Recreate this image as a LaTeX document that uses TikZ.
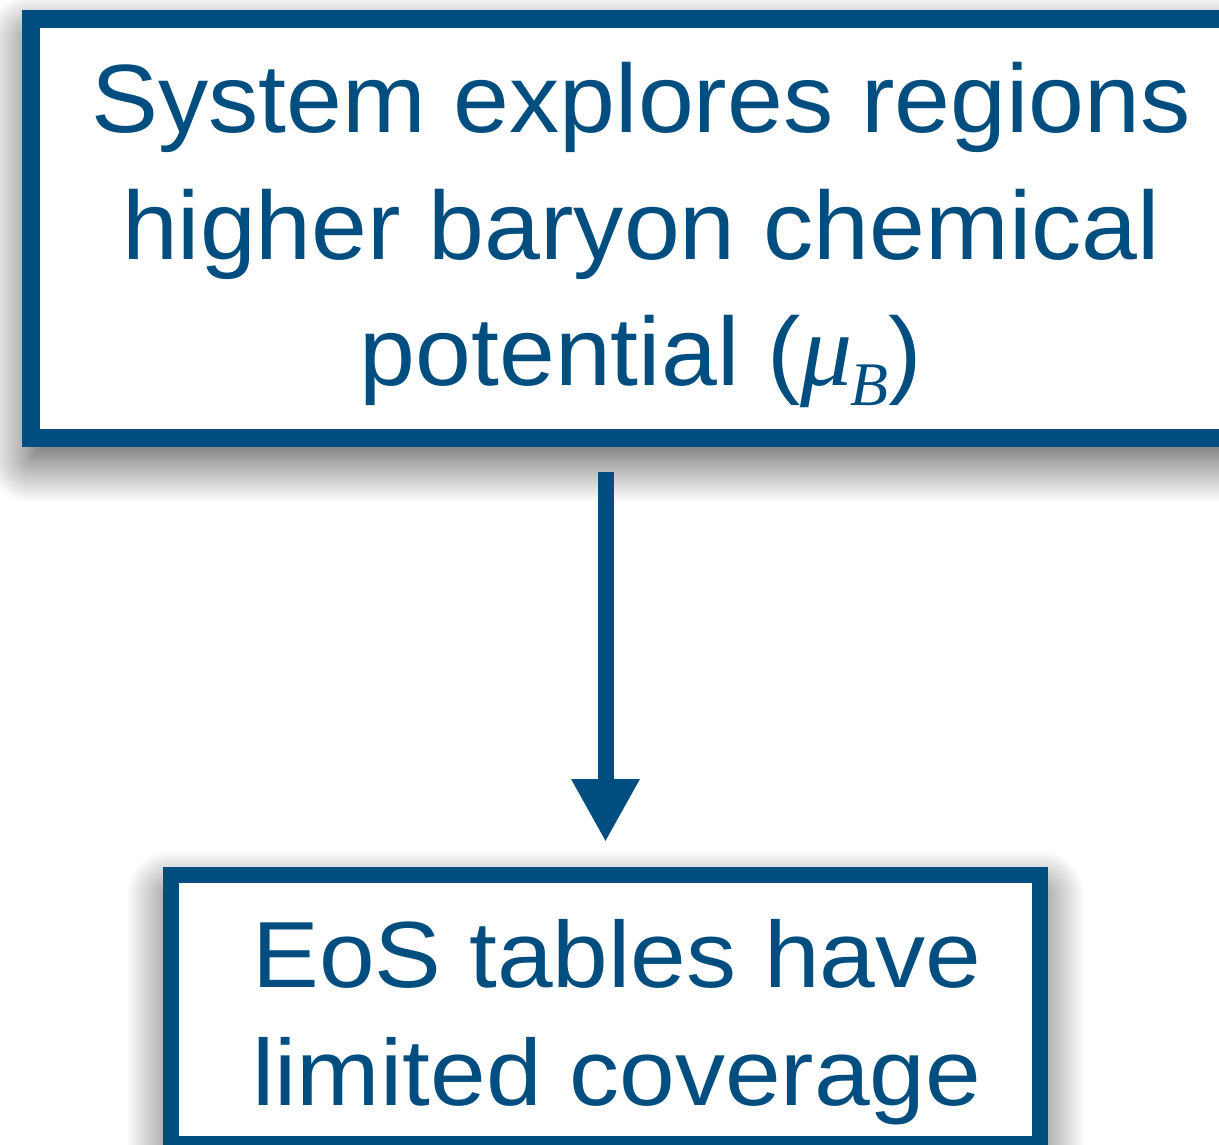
\documentclass[tikz,border=0pt]{standalone}
\usepackage{fontspec}
\setmainfont{Liberation Sans}
\newfontfamily\topfont{Liberation Sans}[FakeStretch=1.035]
\newfontfamily\bottomfont{Liberation Sans}[FakeStretch=1.065]
\newfontfamily\serifmath{Liberation Serif}
\usetikzlibrary{arrows.meta,shadows.blur}
\definecolor{boxblue}{RGB}{0,78,128}
\tikzset{
  boxstyle/.style={draw=boxblue, fill=white, rectangle, inner sep=0pt,
    blur shadow={shadow xshift=0pt, shadow yshift=-20pt, shadow blur radius=45pt, shadow opacity=75, shadow blur steps=24}},
  textstyle/.style={text=boxblue, inner sep=0pt, anchor=base},
  flowarrow/.style={draw=boxblue, line width=16pt, -{Triangle[length=63pt,width=64pt]}, shorten <=25pt, shorten >=25pt}
}
\begin{document}
\begin{tikzpicture}[x=1pt,y=-1pt]
\useasboundingbox (0,0) rectangle (1219,1145);
\clip (0,0) rectangle (1219,1145);
\node[boxstyle, line width=18pt, minimum width=1220pt, minimum height=419pt] (topbox) at (641,228.5) {};
\node[boxstyle, line width=16pt, minimum width=869pt, minimum height=269pt] (bottombox) at (605.5,1009.5) {};
\node[textstyle, font=\topfont\fontsize{97}{126.5}\selectfont] (toptext) at (641,133)
  {\begin{tabular}[t]{@{}c@{}}System explores regions\\ higher baryon chemical\\ potential ({\serifmath\fontsize{104}{104}\selectfont\textit{μ}\kern-2pt\raisebox{-20pt}{\fontsize{62}{70}\selectfont\textit{B}}})\end{tabular}};
\node[textstyle, font=\bottomfont\fontsize{94}{118}\selectfont] (bottomtext) at (617,987)
  {\begin{tabular}[t]{@{}c@{}}EoS tables have\\ limited coverage\end{tabular}};
\draw[flowarrow] (topbox.south -| bottombox.north) -- (bottombox.north);
\end{tikzpicture}
\end{document}
